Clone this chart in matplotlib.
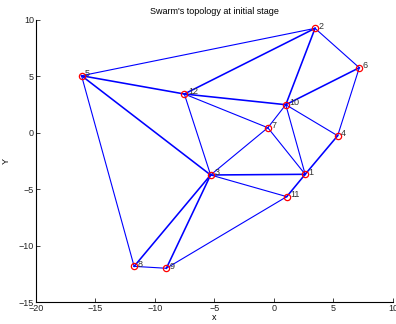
import numpy as np
import matplotlib
matplotlib.use('Agg')
import matplotlib.pyplot as plt

plt.rcParams['font.family'] = ['Liberation Sans', 'DejaVu Sans']

# node positions
node_ids = [1, 2, 3, 4, 5, 6, 7, 8, 9, 10, 11, 12]
node_x = [2.63, 3.46, -5.32, 5.36, -16.17, 7.18, -0.51, -11.75, -9.04, 1.0, 1.08, -7.53]
node_y = [-3.68, 9.26, -3.74, -0.26, 5.06, 5.77, 0.45, -11.84, -12.01, 2.49, -5.66, 3.44]

# links between nodes
edges = [(5, 2), (5, 12), (5, 3), (5, 8), (12, 2), (12, 10), (12, 7), (12, 3),
         (2, 10), (2, 6), (6, 10), (6, 4), (10, 7), (10, 4), (10, 1), (7, 3),
         (7, 1), (4, 1), (1, 3), (1, 11), (3, 11), (3, 8), (3, 9), (11, 9), (8, 9)]
# links that look drawn twice (heavier)
double_edges = [(5, 12), (12, 2), (12, 10), (2, 10), (6, 10), (5, 3), (4, 1),
                (1, 11), (3, 8), (3, 9), (1, 3)]

fig = plt.figure(figsize=(3.96, 3.24), dpi=100)
ax = fig.add_axes([0.0909, 0.0679, 0.9011, 0.8704])

pos = {n: (x, y) for n, x, y in zip(node_ids, node_x, node_y)}
for a, b in edges:
    lw = 1.15 if (a, b) in double_edges else 0.8
    ax.plot([pos[a][0], pos[b][0]], [pos[a][1], pos[b][1]], color='#0000ff', lw=lw)

ax.plot(node_x, node_y, 'o', mfc='none', mec='#ff0000', ms=4.5, mew=0.9)
for n, x, y in zip(node_ids, node_x, node_y):
    ax.text(x + 0.3, y + 0.2, str(n), fontsize=6.5, color='#333333', va='center', ha='left')

ax.set_xlim(-20, 10)
ax.set_ylim(-15, 10)
ax.set_xticks(np.arange(-20, 11, 5))
ax.set_yticks(np.arange(-15, 11, 5))
ax.tick_params(direction='in', labelsize=6.5, length=3, width=0.6, pad=1.5, colors='#222222')
for s in ['top', 'right']:
    ax.spines[s].set_visible(False)
for s in ['left', 'bottom']:
    ax.spines[s].set_linewidth(0.8)
ax.set_xlabel('x', fontsize=6.5, labelpad=0)
ax.set_ylabel('Y', fontsize=6.5, labelpad=6)
ax.set_title("Swarm's topology at initial stage", fontsize=6.5, pad=4)

fig.savefig('out.png', dpi=100)
